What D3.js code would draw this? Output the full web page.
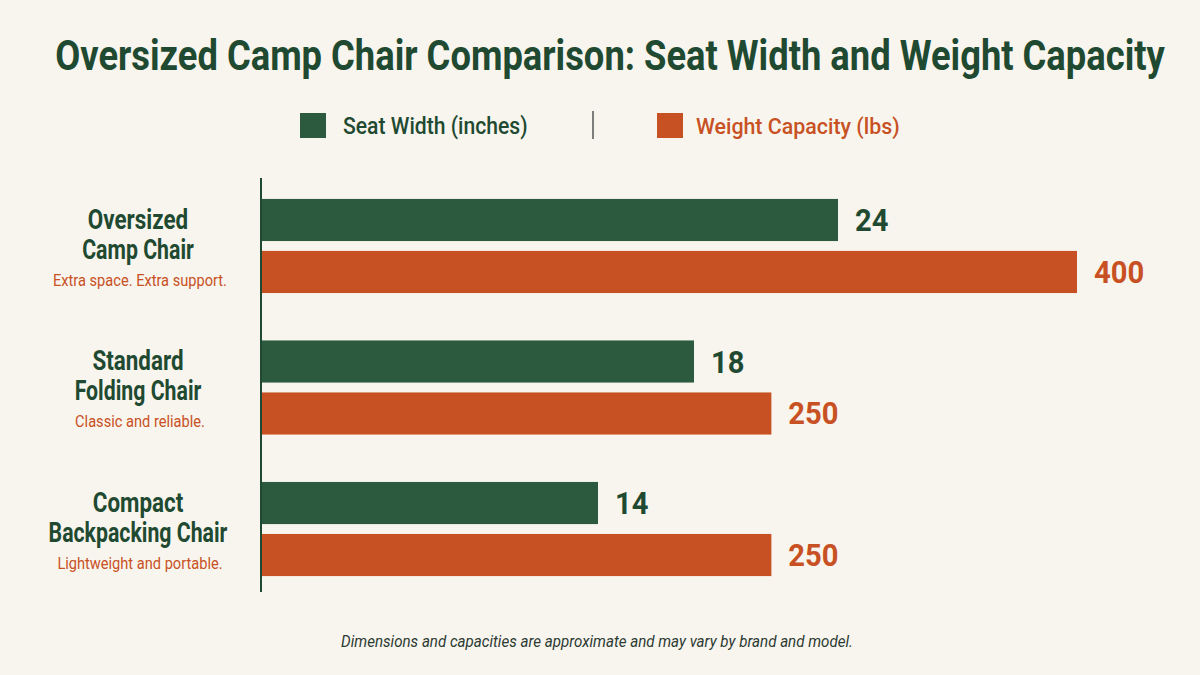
<!DOCTYPE html>
<html>
<head>
<meta charset="utf-8">
<script src="https://cdn.jsdelivr.net/npm/d3@7"></script>
<style>
  body { margin: 0; background: #f8f5ee; }
  svg { display: block; font-family: Roboto, "Liberation Sans", sans-serif; }
</style>
</head>
<body>
<div id="chart"></div>
<script>
// chart data
const chairs = ["Oversized Camp Chair", "Standard Folding Chair", "Compact Backpacking Chair"];
const chairLines = [["Oversized", "Camp Chair"], ["Standard", "Folding Chair"], ["Compact", "Backpacking Chair"]];
const taglines = ["Extra space. Extra support.", "Classic and reliable.", "Lightweight and portable."];
const seatWidth = [24, 18, 14];
const weightCap = [400, 250, 250];
const seriesNames = ["Seat Width (inches)", "Weight Capacity (lbs)"];

const width = 1200;
const height = 675;
const green = "#2b5a3f";
const darkGreen = "#1f4a31";
const orange = "#c85124";

const svg = d3.select("#chart")
  .append("svg")
  .attr("width", width)
  .attr("height", height);

svg.append("rect").attr("width", width).attr("height", height).attr("fill", "#f8f5ee");

// narrow text around its own anchor point (no condensed face installed)
function condense(sel, k) {
  sel.each(function() {
    const t = d3.select(this);
    const x = +t.attr("x"), y = +t.attr("y");
    t.attr("transform", `translate(${x},${y}) scale(${k},1) translate(${-x},${-y})`);
  });
}

// title
const title = svg.append("text")
  .attr("x", 610)
  .attr("y", 70)
  .attr("text-anchor", "middle")
  .attr("fill", darkGreen)
  .attr("font-size", 42)
  .attr("font-weight", 700)
  .text("Oversized Camp Chair Comparison: Seat Width and Weight Capacity");
const tw = title.node().getComputedTextLength();
condense(title, 1110 / tw);

// legend
const legend = svg.append("g");
legend.append("rect").attr("x", 300).attr("y", 113).attr("width", 26).attr("height", 25).attr("fill", green);
legend.append("text").attr("x", 343).attr("y", 134).attr("fill", darkGreen)
  .attr("font-size", 23).attr("font-weight", 500).text(seriesNames[0])
  .call(condense, 0.92);
legend.append("line").attr("x1", 593).attr("x2", 593).attr("y1", 111).attr("y2", 139)
  .attr("stroke", "#555").attr("stroke-width", 1.5);
legend.append("rect").attr("x", 657).attr("y", 113).attr("width", 26).attr("height", 25).attr("fill", orange);
legend.append("text").attr("x", 696).attr("y", 134).attr("fill", orange)
  .attr("font-size", 23).attr("font-weight", 500).text(seriesNames[1])
  .call(condense, 0.93);

// scales
const yScale = d3.scaleBand()
  .domain(chairs)
  .range([176, 599])
  .paddingInner(0.335)
  .paddingOuter(0.162);

const ySub = d3.scaleBand()
  .domain(["seat", "weight"])
  .range([0, yScale.bandwidth()])
  .paddingInner(0.19);

const xSeat = d3.scaleLinear().domain([0, 24]).range([262, 838]);
const xWeight = d3.scaleLinear().domain([0, 400]).range([262, 1077]);

const rows = chairs.map((c, i) => ({
  name: c, lines: chairLines[i], tag: taglines[i], seat: seatWidth[i], weight: weightCap[i]
}));

const groups = svg.selectAll(".chair")
  .data(rows)
  .enter()
  .append("g")
  .attr("class", "chair")
  .attr("transform", d => `translate(0, ${yScale(d.name)})`);

groups.append("rect")
  .attr("x", xSeat(0))
  .attr("y", ySub("seat"))
  .attr("width", d => xSeat(d.seat) - xSeat(0))
  .attr("height", ySub.bandwidth())
  .attr("fill", green);

groups.append("rect")
  .attr("x", xWeight(0))
  .attr("y", ySub("weight"))
  .attr("width", d => xWeight(d.weight) - xWeight(0))
  .attr("height", ySub.bandwidth())
  .attr("fill", orange);

// value labels
groups.append("text")
  .attr("x", d => xSeat(d.seat) + 17)
  .attr("y", ySub("seat") + ySub.bandwidth() / 2 + 11)
  .attr("fill", darkGreen)
  .attr("font-size", 31)
  .attr("font-weight", 700)
  .text(d => d.seat)
  .call(condense, 0.94);

groups.append("text")
  .attr("x", d => xWeight(d.weight) + 17)
  .attr("y", ySub("weight") + ySub.bandwidth() / 2 + 11)
  .attr("fill", orange)
  .attr("font-size", 31)
  .attr("font-weight", 700)
  .text(d => d.weight)
  .call(condense, 0.94);

// category labels
const mid = yScale.bandwidth() / 2;
groups.append("text")
  .attr("x", 138)
  .attr("y", mid - 17)
  .attr("text-anchor", "middle")
  .attr("fill", darkGreen)
  .attr("font-size", 28)
  .attr("font-weight", 700)
  .text(d => d.lines[0])
  .call(condense, 0.8);

groups.append("text")
  .attr("x", 138)
  .attr("y", mid + 13)
  .attr("text-anchor", "middle")
  .attr("fill", darkGreen)
  .attr("font-size", 28)
  .attr("font-weight", 700)
  .text(d => d.lines[1])
  .call(condense, 0.76);

groups.append("text")
  .attr("x", 140)
  .attr("y", mid + 40)
  .attr("text-anchor", "middle")
  .attr("fill", orange)
  .attr("font-size", 17)
  .text(d => d.tag)
  .call(condense, 0.86);

// axis line
svg.append("line")
  .attr("x1", 261).attr("x2", 261)
  .attr("y1", 178).attr("y2", 592)
  .attr("stroke", darkGreen)
  .attr("stroke-width", 2);

// footnote
svg.append("text")
  .attr("x", 597)
  .attr("y", 647)
  .attr("text-anchor", "middle")
  .attr("fill", "#2c3a33")
  .attr("font-size", 17)
  .attr("font-style", "italic")
  .text("Dimensions and capacities are approximate and may vary by brand and model.")
  .call(condense, 0.89);
</script>
</body>
</html>
